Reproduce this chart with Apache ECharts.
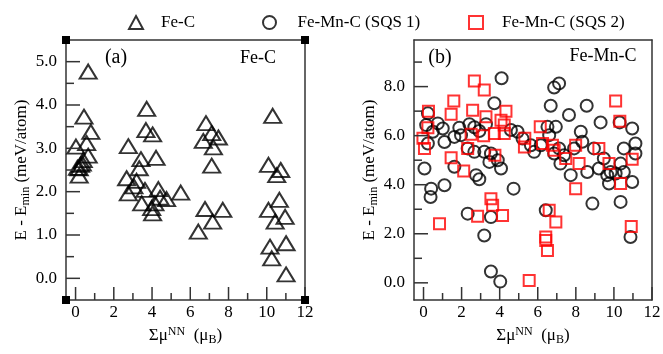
<!DOCTYPE html>
<html>
<head>
<meta charset="utf-8">
<script src="https://cdn.jsdelivr.net/npm/echarts@6/dist/echarts.min.js"></script>
<style>
  html, body { margin: 0; padding: 0; background: #fff; }
  #chart { width: 663px; height: 354px; }
</style>
</head>
<body>
<div id="chart"></div>
<script>
// Fe-C (panel a): [sum mu NN, E - Emin]
const feC = [
  [0.66, 4.77], [0.44, 3.73], [0.80, 3.38], [0.58, 3.12], [0.02, 3.04], [0.66, 2.83],
  [0.40, 2.73], [0.26, 2.62], [0.19, 2.54], [0.19, 2.37], [0.10, 2.55], [0.35, 2.65],
  [3.72, 3.91], [3.68, 3.42], [4.03, 3.32], [2.76, 3.05], [4.21, 2.78], [3.42, 2.75],
  [3.33, 2.54], [2.67, 2.31], [3.19, 2.25], [3.05, 2.12], [2.76, 1.96], [3.63, 2.04],
  [4.33, 2.06], [5.50, 1.98], [4.76, 1.83], [3.46, 1.73], [4.15, 1.73], [3.98, 1.62],
  [4.03, 1.50], [4.42, 1.86],
  [6.82, 3.58], [7.12, 3.35], [6.68, 3.17], [7.47, 3.25], [7.21, 3.02], [7.12, 2.60],
  [6.77, 1.60], [7.70, 1.58], [7.17, 1.31], [6.42, 1.08],
  [10.31, 3.75], [10.09, 2.62], [10.73, 2.50], [10.52, 2.38], [10.66, 1.81], [10.09, 1.58],
  [10.96, 1.42], [10.44, 1.31], [11.01, 0.81], [10.17, 0.73], [10.26, 0.46], [11.01, 0.09]
];

// Fe-Mn-C SQS 1 (panel b, circles)
const sqs1 = [
  [4.10, 8.34], [7.12, 8.13], [6.86, 7.96], [3.72, 7.32], [6.68, 7.22], [8.57, 7.22],
  [7.64, 6.84], [9.30, 6.54], [10.30, 6.54], [10.96, 6.29], [0.23, 6.91], [0.75, 6.50],
  [0.14, 6.43], [1.01, 6.29], [0.49, 6.16], [1.88, 6.32], [2.41, 6.47], [2.67, 6.34],
  [2.93, 6.19], [3.28, 6.47], [1.62, 5.95], [1.10, 5.74], [1.97, 6.02], [4.59, 6.23],
  [4.94, 6.16], [5.20, 5.88], [6.51, 6.36], [6.95, 6.36], [8.26, 6.16], [6.60, 6.02],
  [8.34, 5.75], [0.23, 5.68], [2.32, 5.48], [2.67, 5.34], [3.19, 5.34], [5.64, 5.61],
  [5.81, 5.34], [6.16, 5.61], [7.12, 5.48], [6.86, 5.27], [7.91, 5.48], [8.95, 5.48],
  [10.52, 5.48], [11.13, 5.68], [11.13, 5.27], [3.54, 5.27], [3.46, 4.93], [3.90, 5.00],
  [4.07, 4.66], [1.62, 4.73], [0.05, 4.66], [7.19, 4.86], [7.38, 5.20], [7.73, 4.39],
  [8.60, 4.52], [9.21, 4.66], [9.47, 5.07], [9.65, 4.39], [9.74, 4.05], [9.83, 4.52],
  [10.09, 4.46], [10.52, 4.52], [10.35, 4.86], [10.96, 4.11], [2.76, 4.39], [2.93, 4.22],
  [1.10, 3.98], [0.40, 3.84], [0.37, 3.50], [4.73, 3.84], [8.87, 3.23], [10.35, 3.30],
  [2.32, 2.82], [3.54, 2.68], [6.42, 2.96], [3.19, 1.93], [10.87, 1.87], [3.54, 0.46],
  [4.03, 0.05]
];

// Fe-Mn-C SQS 2 (panel b, squares)
const sqs2 = [
  [2.67, 8.23], [3.19, 7.86], [1.59, 7.41], [2.58, 7.04], [0.26, 7.00], [1.45, 6.87],
  [4.33, 7.00], [10.09, 7.41], [10.31, 6.59], [0.23, 6.32], [-0.03, 5.89], [0.05, 5.48],
  [2.50, 6.06], [3.16, 6.00], [3.28, 6.77], [4.07, 6.63], [4.24, 6.43], [4.24, 6.09],
  [3.72, 6.09], [5.32, 5.89], [5.30, 5.54], [6.13, 6.36], [6.25, 5.68], [6.77, 5.61],
  [6.86, 5.41], [7.99, 5.61], [9.21, 5.48], [9.74, 4.86], [10.96, 5.04], [2.32, 5.48],
  [1.45, 5.10], [2.11, 4.56], [3.75, 5.20], [7.47, 5.07], [8.17, 4.86], [10.35, 4.05],
  [7.99, 3.84], [3.54, 3.43], [3.63, 3.16], [4.15, 2.75], [2.84, 2.71], [0.84, 2.41],
  [6.60, 2.96], [6.95, 2.48], [6.42, 1.87], [6.42, 1.73], [6.51, 1.32], [10.91, 2.30],
  [5.55, 0.10]
];

// axis ranges and tick values
const xRange = [-0.5, 12];
const yRangeA = [-0.5, 5.5];
const yRangeB = [-0.7, 9.9];
const xMajor = [0, 2, 4, 6, 8, 10, 12];
const xMinor = [1, 3, 5, 7, 9, 11];
const yMajorA = [0, 1, 2, 3, 4, 5];
const yMinorA = [0.5, 1.5, 2.5, 3.5, 4.5];
const yMajorB = [0, 2, 4, 6, 8];
const yMinorB = [1, 3, 5, 7, 9];

const FONT = 'Liberation Serif';
const INK = '#000';
const FRAME = '#333';

const gridA = { left: 66, top: 40, width: 239, height: 260 };
const gridB = { left: 414, top: 40, width: 238, height: 260 };

const chart = echarts.init(document.getElementById('chart'));

const richName = {
  n: { fontFamily: FONT, fontSize: 17, color: INK },
  sub: { fontFamily: FONT, fontSize: 12, color: INK, verticalAlign: 'bottom', padding: [8, 0, 0, 0] },
  sup: { fontFamily: FONT, fontSize: 12, color: INK, verticalAlign: 'top', padding: [0, 0, 8, 0] }
};
const yName = '{n|E - E}{sub|min}{n| (meV/atom)}';
const xName = '{n|\u03A3\u03BC}{sup|NN}{n|  (\u03BC}{sub|B}{n|)}';

const frameLine = { show: true, onZero: false, lineStyle: { color: FRAME, width: 1.5 } };

const axisX = (gridIndex) => ({
  type: 'value', gridIndex, min: xRange[0], max: xRange[1], position: 'bottom',
  name: xName, nameLocation: 'middle', nameGap: 26, nameTextStyle: { rich: richName },
  axisLine: frameLine,
  axisTick: { show: false },
  axisLabel: { customValues: xMajor, fontFamily: FONT, fontSize: 17, color: INK, margin: 4 },
  splitLine: { show: false }
});
const axisY = (gridIndex, yr, labels) => ({
  type: 'value', gridIndex, min: yr[0], max: yr[1], position: 'left',
  name: yName, nameLocation: 'middle', nameGap: 34, nameRotate: 90, nameTextStyle: { rich: richName },
  axisLine: frameLine,
  axisTick: { show: false },
  axisLabel: {
    customValues: labels, fontFamily: FONT, fontSize: 17, color: INK, margin: 9,
    formatter: (v) => v.toFixed(1)
  },
  splitLine: { show: false }
});
// top and right edges of the box: bare axis lines
const edgeX = (gridIndex) => ({
  type: 'value', gridIndex, min: xRange[0], max: xRange[1], position: 'top',
  axisLine: frameLine, axisTick: { show: false }, axisLabel: { show: false }, splitLine: { show: false }
});
const edgeY = (gridIndex, yr) => ({
  type: 'value', gridIndex, min: yr[0], max: yr[1], position: 'right',
  axisLine: frameLine, axisTick: { show: false }, axisLabel: { show: false }, splitLine: { show: false }
});

// inward tick marks, placed on the axes through the panel's own scales
const tickSeries = (axisIndex, values, along, edge, length) => ({
  type: 'scatter', xAxisIndex: axisIndex, yAxisIndex: axisIndex,
  silent: true, clip: false, z: 5,
  data: values.map((v) => (along === 'x' ? [v, edge] : [edge, v])),
  symbol: 'rect',
  symbolSize: along === 'x' ? [1.5, length] : [length, 1.5],
  symbolOffset: along === 'x' ? [0, -length / 2] : [length / 2, 0],
  itemStyle: { color: FRAME, opacity: 1 }
});

const legendBase = { top: 9, itemWidth: 14, itemHeight: 13, itemGap: 0, selectedMode: false };
const legendText = (padLeft) => ({ fontFamily: FONT, fontSize: 17, color: INK, padding: [3, 0, 0, padLeft] });

// black corner handles around panel (a)
const corners = [];
[gridA.left, gridA.left + gridA.width].forEach((cx) => {
  [gridA.top, gridA.top + gridA.height].forEach((cy) => {
    corners.push({
      type: 'rect', shape: { x: cx - 4, y: cy - 4, width: 8, height: 8 },
      style: { fill: '#000' }, z: 10
    });
  });
});

const label = (text, x, y, size) => ({
  type: 'text', z: 10,
  style: { text, x, y, font: `${size}px "${FONT}"`, fill: INK, textAlign: 'center', textVerticalAlign: 'middle' }
});

chart.setOption({
  animation: false,
  grid: [
    { ...gridA, outerBoundsMode: 'none' },
    { ...gridB, outerBoundsMode: 'none' }
  ],
  xAxis: [axisX(0), axisX(1), edgeX(0), edgeX(1)],
  yAxis: [axisY(0, yRangeA, yMajorA), axisY(1, yRangeB, yMajorB), edgeY(0, yRangeA), edgeY(1, yRangeB)],
  legend: [
    { ...legendBase, left: 123, data: ['Fe-C'], textStyle: legendText(13) },
    { ...legendBase, left: 257, data: ['Fe-Mn-C (SQS 1)'], textStyle: legendText(16) },
    { ...legendBase, left: 463, data: ['Fe-Mn-C (SQS 2)'], textStyle: legendText(14) }
  ],
  graphic: [
    ...corners,
    label('(a)', 116, 58, 20),
    label('Fe-C', 258, 58, 18),
    label('(b)', 440, 58, 20),
    label('Fe-Mn-C', 603, 56, 18)
  ],
  series: [
    tickSeries(0, xMajor, 'x', yRangeA[0], 13),
    tickSeries(0, xMinor, 'x', yRangeA[0], 7),
    tickSeries(0, yMajorA, 'y', xRange[0], 14),
    tickSeries(0, yMinorA, 'y', xRange[0], 8),
    tickSeries(1, xMajor, 'x', yRangeB[0], 13),
    tickSeries(1, xMinor, 'x', yRangeB[0], 7),
    tickSeries(1, yMajorB, 'y', xRange[0], 14),
    tickSeries(1, yMinorB, 'y', xRange[0], 8),
    {
      name: 'Fe-C', type: 'scatter', xAxisIndex: 0, yAxisIndex: 0,
      data: feC, symbol: 'triangle', symbolSize: [17, 14],
      itemStyle: { color: 'rgba(0,0,0,0)', borderColor: INK, borderWidth: 2 }
    },
    {
      name: 'Fe-Mn-C (SQS 1)', type: 'scatter', xAxisIndex: 1, yAxisIndex: 1,
      data: sqs1, symbol: 'circle', symbolSize: 12,
      itemStyle: { color: 'rgba(0,0,0,0)', borderColor: INK, borderWidth: 2 }
    },
    {
      name: 'Fe-Mn-C (SQS 2)', type: 'scatter', xAxisIndex: 1, yAxisIndex: 1,
      data: sqs2, symbol: 'rect', symbolSize: 11,
      itemStyle: { color: 'rgba(0,0,0,0)', borderColor: '#ff0000', borderWidth: 2 }
    }
  ]
});
</script>
</body>
</html>
